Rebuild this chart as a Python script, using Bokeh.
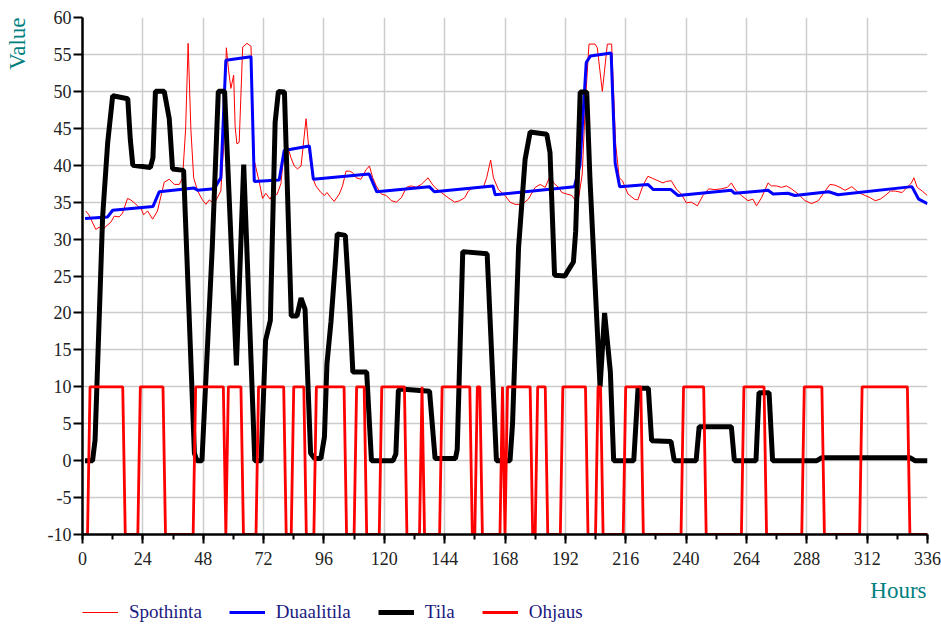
from bokeh.plotting import figure
from bokeh.layouts import column, row
from bokeh.models import SingleIntervalTicker, Range1d, Legend, LegendItem, Label, Title, CustomJSTickFormatter
from bokeh.embed import file_html
from bokeh.resources import INLINE

# ---- data ----
spot_h = [1.3, 2.5, 5.3, 6.6, 8.6, 11.3, 12.6, 14.6, 15.9, 17.9, 19.2, 20.6, 21.9, 23.2, 24.3, 25.9, 27.9, 29.8,
          32.5, 34.5, 36.5, 38.5, 39.8, 41, 42, 43.1, 44.2, 45.8, 47.7, 49.1, 50.4, 52.4, 55, 56.1, 57.2, 58.1,
          59, 60.1, 60.7, 61.4, 62.3, 63.7, 65.4, 67, 68.3, 70.3, 71.6, 72.9, 74.6, 76, 77.3, 78.9, 80.2, 81.5,
          82.9, 84.2, 85.5, 86.9, 88.9, 90.2, 91.5, 92.8, 94.8, 96.2, 97.2, 98.8, 100.1, 102.1, 103.4, 104.8,
          106.1, 107.4, 108.8, 110.7, 112.8, 114.1, 115.4, 116.8, 118.8, 120.8, 122.8, 124.8, 126.8, 128.8,
          130.7, 132.7, 134.7, 137.4, 138.7, 140.1, 142.7, 145.4, 148, 150, 152, 153.4, 155.4, 157.4, 159.4,
          160.7, 162.3, 163.4, 165.4, 168, 170, 172, 174.7, 177.3, 180, 182, 184, 186, 187.3, 189.3, 190.6,
          192.6, 194.6, 196, 197.3, 198.7, 200, 201.4, 203.8, 204.7, 206.7, 208.7, 210.4, 212, 213.4, 214.7,
          216.9, 219.5, 220.8, 222.8, 224.8, 226.8, 228.8, 230.8, 232.1, 234.1, 236.1, 238.1, 240.1, 242.1,
          244.5, 246.7, 249, 251.4, 254, 256.4, 258, 260, 262, 264.6, 266.6, 268, 270, 272.6, 273.9, 275.9,
          277.9, 279.9, 281.9, 284.6, 287.3, 289.9, 292.6, 295.3, 297.2, 299.2, 301.2, 303.2, 305.9, 308.6,
          311.2, 313.2, 315.2, 317.2, 319.2, 321.2, 323.2, 325.9, 327.9, 329.6, 330.6, 331.9, 333.9, 335.9]
spot_v = [33.8, 33.3, 31.3, 31.6, 31.5, 32.3, 33.1, 33.0, 33.5, 35.5, 35.3, 34.9, 34.5, 34.2, 33.3, 33.8, 32.7, 33.8,
          37.7, 38.1, 37.4, 37.4, 38.3, 44.9, 56.5, 44.8, 38.3, 36.5, 35.3, 34.7, 35.3, 34.8, 36.5, 42.4, 55.9, 52.8,
          50.4, 52.2, 45.2, 42.9, 43.1, 56.0, 56.5, 56.1, 40.6, 37.7, 35.5, 36.2, 35.4, 36.4, 36.0, 37.5, 42.0, 42.6,
          41.0, 39.9, 39.5, 39.9, 46.3, 41.5, 38.3, 37.2, 36.3, 35.9, 36.3, 35.6, 35.1, 36.1, 37.2, 39.2,
          39.2, 39.0, 38.3, 38.1, 39.4, 39.9, 38.3, 37.2, 36.1, 35.9, 35.2, 35.0, 35.6, 37.0,
          37.2, 37.0, 37.4, 38.3, 37.6, 37.0, 36.3, 35.6, 35.0, 35.2, 35.6, 36.5, 37.0, 37.0, 37.0,
          38.3, 40.7, 38.3, 36.7, 35.9, 35.0, 34.7, 34.7, 35.4, 37.0, 37.4, 37.0, 38.6, 37.6, 37.0, 36.3,
          36.1, 35.9, 35.2, 35.6, 38.8, 48.7, 56.4, 56.4, 55.9, 50.0, 56.4, 56.4, 42.9, 38.3, 37.9,
          36.1, 35.4, 35.3, 37.2, 38.5, 38.2, 37.9, 37.6, 37.8, 37.9, 36.8, 36.1, 34.9, 35.0,
          34.5, 35.9, 36.8, 36.7, 36.8, 37.0, 37.6, 36.5, 35.9, 35.2, 35.4, 34.5, 35.6, 37.6, 37.2, 37.2,
          37.0, 37.2, 36.8, 36.1, 35.2, 34.8, 35.2, 36.5, 37.4, 37.3, 37.0, 36.6, 37.1, 36.3,
          35.9, 35.6, 35.2, 35.4, 35.9, 36.5, 36.5, 36.3, 37.0, 37.6, 38.3, 37.0, 36.5, 35.9]

dual_h = [1, 10, 12, 28, 30.5, 44.4, 45.8, 52.4, 55, 57, 67, 68.3, 78.2, 80.2, 90.2, 91.8, 114, 117, 137.9, 139.9,
          163.2, 164.1, 195.6, 197.8, 200.3, 202, 210.2, 211.8, 213.6, 224.8, 227, 234, 236.8, 258, 259.3,
          272.6, 274.6, 280.5, 283.2, 296.7, 300.4, 329.8, 332.5, 336]
dual_v = [32.8, 33.0, 33.9, 34.4, 36.4, 36.9, 36.6, 36.8, 38.3, 54.2, 54.7, 37.8, 38.0, 42.0, 42.6, 38.1, 38.8, 36.4,
          37.1, 36.4, 37.2, 36.0, 37.1, 40.0, 53.9, 54.8, 55.2, 40.3, 37.1, 37.4, 36.7, 36.7, 35.9, 36.6, 36.2,
          36.6, 36.1, 36.2, 35.9, 36.4, 36.0, 37.1, 35.4, 34.8]

tila_h = [1, 4, 5, 8, 10, 12, 18, 19, 20, 27, 28, 29, 32.5, 34.5, 35.8, 40.2, 44.5, 45.5, 47.5, 51.6, 54, 56.5,
          61.2, 64.1, 68.5, 71, 72.8, 74.7, 76.6, 77.9, 80.3, 83, 85.3, 86.9, 88.5, 90.7, 92.3, 94.8, 96.2,
          97.2, 98.8, 100.5, 101.3, 104.5, 106.2, 107.5, 113, 114.9, 123.5, 124.6, 125.6, 126.5, 138, 140.2,
          148.3, 149, 151.2, 160.9, 164.6, 170, 171, 173.4, 176, 178, 184.6, 185.9, 187.7, 191.8, 193.2,
          195.2, 196.1, 197.9, 200.5, 201.8, 205.8, 207.6, 209.9, 211.2, 219.2, 220.9, 225, 226.3, 234,
          235.3, 244, 245.2, 258, 259.2, 267.8, 269, 273, 274.4, 292, 294, 329, 331, 336]
tila_v = [0, 0, 2.8, 33, 43, 49.4, 49, 43.5, 40, 39.7, 41, 50, 50, 46.3, 39.5, 39.3, 1, 0, 0, 28.9, 50, 50,
          12.9, 40.1, 0, 0, 16.3, 19, 45.8, 50, 49.9, 19.6, 19.6, 22, 20.5, 1, 0.3, 0.3, 3.2,
          13.1, 18.8, 26.6, 30.7, 30.5, 21, 12, 12, 0, 0, 0.9, 9.5, 9.7, 9.4, 0.3,
          0.3, 1.5, 28.3, 28, 0, 0, 5, 28.9, 40.8, 44.5, 44.2, 41.7, 25.1, 25, 25.8,
          26.9, 31, 49.9, 49.9, 38, 10, 20, 12, 0, 0, 9.8, 9.8, 2.7, 2.6,
          0, 0, 4.6, 4.6, 0, 0, 9.2, 9.2, 0, 0, 0.4, 0.4, 0, 0]

# hours at which Ohjaus is "on" (+10); otherwise -10
ohjaus_on = [(3, 16), (23, 32), (45, 56), (58, 63), (70, 80), (84, 88), (93, 104), (109, 112), (119, 128),
             (135, 135), (143, 154), (157, 158), (167, 167), (169, 178), (181, 184), (191, 200), (205, 206),
             (216, 222), (239, 247), (263, 271), (287, 294), (310, 328)]
ohj_h = list(range(1, 337))
ohj_v = [10 if any(a <= h <= b for a, b in ohjaus_on) else -10 for h in ohj_h]

series_names = ["Spothinta", "Duaalitila", "Tila", "Ohjaus"]

FONT = "Times New Roman"
TEAL = "#008080"
STYLES = [dict(line_color="#ff0000", line_width=1),
          dict(line_color="#0000ff", line_width=3),
          dict(line_color="#000000", line_width=5),
          dict(line_color="#ff0000", line_width=2.8)]

VSTRIP = 34


def blank(w, h, top=0, bottom=0):
    f = figure(width=w, height=h, output_backend="svg", toolbar_location=None,
               x_range=Range1d(0, 1), y_range=Range1d(0, 1),
               x_axis_location=None, y_axis_location=None,
               min_border_left=0, min_border_right=0, min_border_top=top, min_border_bottom=bottom)
    f.grid.visible = False
    f.outline_line_color = None
    return f


# ---- main chart ----
p = figure(width=941 - VSTRIP, height=574, output_backend="svg", toolbar_location=None,
           x_range=Range1d(0, 336), y_range=Range1d(-10, 60),
           min_border_left=82 - VSTRIP, min_border_right=14, min_border_top=17, min_border_bottom=40)
p.outline_line_color = None
p.background_fill_color = "white"
p.border_fill_color = "white"

p.line(spot_h, spot_v, **STYLES[0])
p.line(dual_h, dual_v, **STYLES[1])
p.line(tila_h, tila_v, **STYLES[2])
p.line(ohj_h, ohj_v, **STYLES[3])

p.xaxis.ticker = SingleIntervalTicker(interval=24, num_minor_ticks=2)
p.yaxis.ticker = SingleIntervalTicker(interval=5, num_minor_ticks=0)
for ax in (p.xaxis[0], p.yaxis[0]):
    ax.formatter = CustomJSTickFormatter(code="return String(tick);")
    ax.axis_line_color = "black"
    ax.axis_line_width = 2.5
    ax.major_tick_line_color = "black"
    ax.major_tick_line_width = 2
    ax.minor_tick_line_color = "black"
    ax.minor_tick_line_width = 2
    ax.major_tick_in = 0
    ax.minor_tick_in = 0
    ax.major_label_text_font = FONT
    ax.major_label_text_font_size = "18px"
    ax.major_label_text_color = "#222222"
p.xaxis.major_tick_out = 9
p.xaxis.minor_tick_out = 5
p.xaxis.major_label_standoff = 8
p.yaxis.major_tick_out = 9
p.yaxis.minor_tick_out = 0
p.yaxis.major_label_standoff = 2

p.xgrid.grid_line_color = "#cccccc"
p.ygrid.grid_line_color = "#cccccc"
p.xgrid.grid_line_width = 1.5
p.ygrid.grid_line_width = 1.5

# ---- left strip: y axis title (a vertical title reads bottom to top) ----
vf = blank(VSTRIP, 574, top=17, bottom=40)
vf.add_layout(Title(text="Value", align="right", text_font=FONT, text_font_size="23px",
                    text_font_style="normal", text_color=TEAL, standoff=4, offset=0), "left")

# ---- bottom strip: x axis title and legend ----
lg = blank(941, 50)
lg.add_layout(Label(x=926, y=34, x_units="screen", y_units="screen", text="Hours",
                    text_font=FONT, text_font_size="23px", text_color=TEAL,
                    text_align="right", text_baseline="alphabetic"))
items = []
for name, st in zip(series_names, STYLES):
    r = lg.line([-5, -4], [-5, -4], **st)
    items.append(LegendItem(label=name, renderers=[r]))
legend = Legend(items=items, orientation="horizontal", location=(82, 1), padding=0, margin=0, spacing=27,
                glyph_width=36, glyph_height=22, label_standoff=11, label_height=22,
                label_text_font=FONT, label_text_font_size="19px", label_text_color="#1a1a80",
                border_line_color=None, background_fill_alpha=0)
lg.add_layout(legend)

layout = column(row(vf, p, spacing=0), lg, spacing=0)
open("out.html", "w").write(file_html(layout, INLINE))
